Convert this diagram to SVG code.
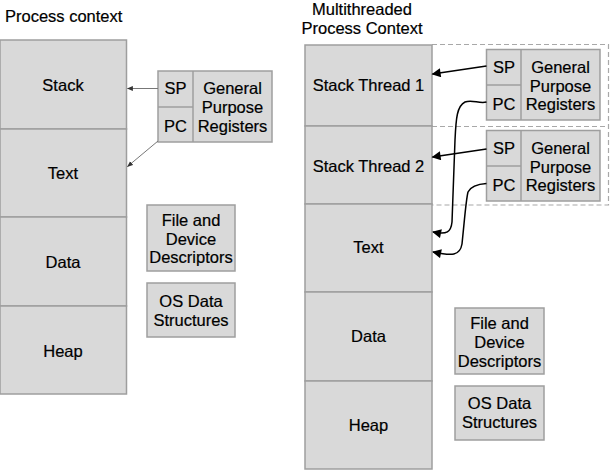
<svg xmlns="http://www.w3.org/2000/svg" width="611" height="470" viewBox="0 0 611 470">
<defs>
<style>
text{font-family:"Liberation Sans",Arial,Helvetica,sans-serif;font-size:16.5px;fill:#000;stroke:#000;stroke-width:0.2;text-anchor:middle}
.t{text-anchor:start}
.b{fill:#d9d9d9;stroke:#9e9e9e;stroke-width:1.5}
.d{stroke:#9e9e9e;stroke-width:1.5;fill:none}
.dash{stroke:#a8a8a8;stroke-width:1.2;fill:none;stroke-dasharray:5 3}
.thin{stroke:#777;stroke-width:1;fill:none}
.bold{stroke:#000;stroke-width:1.5;fill:none}
</style>
<marker id="ah" viewBox="0 0 10 10" refX="9" refY="5" markerWidth="6" markerHeight="6" orient="auto" markerUnits="userSpaceOnUse"><path d="M0,1 L10,5 L0,9 z" fill="#333"/></marker>
<marker id="ahb" viewBox="0 0 10 10" refX="9" refY="5" markerWidth="11" markerHeight="9" orient="auto" markerUnits="userSpaceOnUse"><path d="M0,0 L10,5 L0,10 z" fill="#000"/></marker>
</defs>
<rect width="611" height="470" fill="#fff"/>

<!-- Left: Process context -->
<text class="t" x="5" y="22">Process context</text>
<g id="left-stack"><rect class="b" x="0" y="40" width="126.5" height="89"/><text x="63" y="90.5">Stack</text></g>
<g id="left-text"><rect class="b" x="0" y="129" width="126.5" height="88"/><text x="63" y="179">Text</text></g>
<g id="left-data"><rect class="b" x="0" y="217" width="126.5" height="89"/><text x="63" y="268">Data</text></g>
<g id="left-heap"><rect class="b" x="0" y="306" width="126.5" height="88"/><text x="63" y="357">Heap</text></g>
<g id="left-regs">
<rect class="b" x="158" y="71" width="114" height="71"/>
<line class="d" x1="193" y1="71" x2="193" y2="142"/>
<line class="d" x1="158" y1="107" x2="193" y2="107"/>
<text x="175.5" y="94">SP</text><text x="175.5" y="132">PC</text>
<text x="232.5" y="94">General</text><text x="232.5" y="113">Purpose</text><text x="232.5" y="132">Registers</text>
</g>
<g id="left-files"><rect class="b" x="147" y="205" width="88" height="66"/><text x="191" y="226">File and</text><text x="191" y="244.5">Device</text><text x="191" y="263">Descriptors</text></g>
<g id="left-os"><rect class="b" x="147" y="283" width="88" height="54"/><text x="191" y="307">OS Data</text><text x="191" y="326">Structures</text></g>

<!-- Right: Multithreaded -->
<text x="362" y="14.5">Multithreaded</text>
<text x="362" y="33.5">Process Context</text>
<g id="thread-area">
<path class="dash" d="M432,44.5 H608.5 V205 H432 M432,126.5 H608.5"/>
</g>
<g id="right-stack1"><rect class="b" x="305" y="45" width="127" height="81"/><text x="368.5" y="91">Stack Thread 1</text></g>
<g id="right-stack2"><rect class="b" x="305" y="126" width="127" height="78"/><text x="368.5" y="172">Stack Thread 2</text></g>
<g id="right-text"><rect class="b" x="305" y="204" width="127" height="88"/><text x="368.5" y="253">Text</text></g>
<g id="right-data"><rect class="b" x="305" y="292" width="127" height="89"/><text x="368.5" y="342">Data</text></g>
<g id="right-heap"><rect class="b" x="305" y="381" width="127" height="88"/><text x="368.5" y="431">Heap</text></g>
<g id="right-regs1">
<rect class="b" x="486.5" y="49.5" width="113.5" height="70.5"/>
<line class="d" x1="521" y1="49.5" x2="521" y2="120"/>
<line class="d" x1="486.5" y1="85" x2="521" y2="85"/>
<text x="504" y="73">SP</text><text x="504" y="110">PC</text>
<text x="560.5" y="73">General</text><text x="560.5" y="92">Purpose</text><text x="560.5" y="110">Registers</text>
</g>
<g id="right-regs2">
<rect class="b" x="486.5" y="130.5" width="113.5" height="70.5"/>
<line class="d" x1="521" y1="130.5" x2="521" y2="201"/>
<line class="d" x1="486.5" y1="166" x2="521" y2="166"/>
<text x="504" y="154">SP</text><text x="504" y="191">PC</text>
<text x="560.5" y="154">General</text><text x="560.5" y="173">Purpose</text><text x="560.5" y="191">Registers</text>
</g>
<g id="right-files"><rect class="b" x="455" y="308" width="89" height="66"/><text x="499.5" y="329">File and</text><text x="499.5" y="348">Device</text><text x="499.5" y="367">Descriptors</text></g>
<g id="right-os"><rect class="b" x="455" y="386" width="89" height="54"/><text x="499.5" y="409">OS Data</text><text x="499.5" y="428">Structures</text></g>

<g id="connectors">
<line class="thin" x1="158" y1="88.5" x2="127.5" y2="88.5" marker-end="url(#ah)"/>
<line class="thin" x1="158" y1="141" x2="127.5" y2="166.5" marker-end="url(#ah)"/>
<line class="bold" x1="486.5" y1="66" x2="432.5" y2="74" marker-end="url(#ahb)"/>
<line class="bold" x1="486.5" y1="149" x2="432.5" y2="157" marker-end="url(#ahb)"/>
<path class="bold" d="M486.5,102 C479,104 472,99 465,102 C457,106 456,118 455,140 L452,222 C451,232 447,235 433,232" marker-end="url(#ahb)"/>
<path class="bold" d="M486.5,183.5 C478,184 471,186 468,192 C466,200 465,215 462,244 C460,256 452,256 433,252" marker-end="url(#ahb)"/>
</g>
</svg>
